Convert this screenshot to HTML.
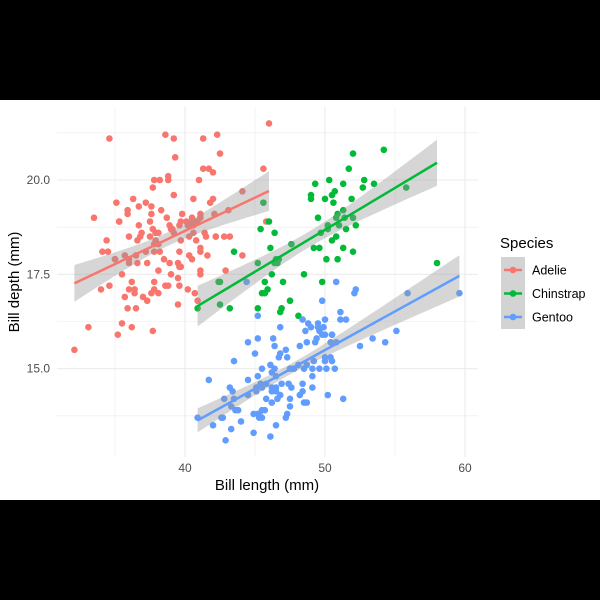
<!DOCTYPE html>
<html><head><meta charset="utf-8"><style>
html,body{margin:0;padding:0;background:#000;}
svg{display:block;font-family:"Liberation Sans",sans-serif;}
</style></head><body>
<svg id="chart" width="600" height="600">
<rect x="0" y="0" width="600" height="600" fill="#000"/>
<rect x="0" y="100" width="600" height="400" fill="#fff"/>
<g id="grid"></g>
<g id="pts"></g>
<g id="fits"></g>
<g id="axes"></g>
<text x="267" y="490" text-anchor="middle" font-size="15" fill="#000">Bill length (mm)</text>
<text transform="translate(19,282) rotate(-90)" text-anchor="middle" font-size="15" fill="#000">Bill depth (mm)</text>
<g id="legend">
<text x="500" y="248" font-size="15" fill="#000">Species</text>
<rect x="501" y="257" width="24" height="72" fill="#d3d3d3"/>
</g>
</svg>
<script>
const species = ["Adelie","Chinstrap","Gentoo"];
const colors = ["#F8766D","#00BA38","#619CFF"];
const xTicks = [40,50,60];
const yTicks = [15.0,17.5,20.0];
const adelieLen = [39.1,39.5,40.3,36.7,39.3,38.9,39.2,34.1,42,37.8,37.8,41.1,38.6,34.6,36.6,38.7,42.5,34.4,46,37.8,37.7,35.9,38.2,38.8,35.3,40.6,40.5,37.9,40.5,39.5,37.2,39.5,40.9,36.4,39.2,38.8,42.2,37.6,39.8,36.5,40.8,36,44.1,37,39.6,41.1,37.5,36,42.3,39.6,40.1,35,42,34.5,41.4,39,40.6,36.5,37.6,35.7,41.3,37.6,41.1,36.4,41.6,35.5,41.1,35.9,41.8,33.5,39.7,39.6,45.8,35.5,42.8,40.9,37.2,36.2,42.1,34.6,42.9,36.7,35.1,37.3,41.3,36.3,36.9,38.3,38.9,35.7,41.1,34,39.6,36.2,40.8,38.1,40.3,33.1,43.2,35,41,37.7,37.8,37.9,39.7,38.6,38.2,38.1,41.7,32.1,40.7,37.3,39,39.2,36.6,36,37.8,36,41.5,40.2,35.2,37.7,39.7,44.1,38.5,43.1,36.8,37.5,38.1,41.1,35.9,40.6,45.6,42.2,39.7,38.1,40.2,38.8,35.3,40.6,37.9,40.5,34.4];
const adelieDep = [18.7,17.4,18,19.3,20.6,17.8,19.6,18.1,20.2,17.1,17.3,17.6,21.2,21.1,17.8,19,20.7,18.4,21.5,18.3,18.7,19.2,18.1,17.2,18.9,18.6,17.9,18.6,18.9,16.7,18.1,17.8,18.9,17,21.1,20,18.5,19.3,19.1,18,18.4,18.5,19.7,16.9,18.8,19,18.9,17.9,21.2,17.7,18.9,17.9,19.5,18.1,18.6,17.5,18.8,16.6,19.1,16.9,21.1,17,18.2,17.1,18,16.2,19.1,16.6,19.4,19,18.4,17.2,18.9,17.5,18.5,16.8,19.4,16.1,19.1,17.2,17.6,18.8,19.4,17.8,20.3,19.5,18.6,19.2,18.8,18,18.1,17.1,18.1,17.3,18.9,18.6,18.5,16.1,18.5,17.9,20,16,20,18.6,18.9,17.2,20,17,20.3,15.5,17,16.8,18.7,18.6,18.4,17.8,18.1,17.1,18.5,17.1,15.9,19.8,17.7,18,17.9,19.2,18.5,18.5,17.6,17.5,19.1,19.5,20.3,18.5,17.7,18.3,18.8,20.1,18.9,18.9,18.4,19];
const chinLen = [46.5,50,51.3,45.4,52.7,45.2,46.1,51.3,46,51.3,46.6,51.7,47,52,45.9,50.5,50.3,58,46.4,49.2,42.4,48.5,43.2,50.6,46.7,52,50.5,49.5,46.4,52.8,40.9,54.2,42.5,51,49.7,47.5,47.6,52,46.9,53.5,49,46.2,50.9,45.5,50.9,50.8,50.1,49,51.5,49.8,48.1,51.4,45.7,50.7,42.5,52.2,45.2,49.3,50.2,45.6,51.9,46.8,45.7,55.8,43.5,49.6,50.8,50.2];
const chinDep = [17.9,19.5,19.2,18.7,19.8,17.8,18.2,18.2,18.9,19.9,17.8,20.3,17.3,18.1,17.1,19.6,20,17.8,18.6,18.2,17.3,17.5,16.6,19.4,17.9,19,18.4,19,17.8,20,16.6,20.8,16.7,18.8,18.6,16.8,18.3,20.7,16.6,19.9,19.5,17.5,19.1,17,17.9,18.5,17.9,19.6,18.7,17.3,16.4,19,17.3,19.7,17.3,18.8,16.6,19.9,18.8,19.4,19.5,16.5,17,19.8,18.1,18.2,19,18.7];
const gentLen = [46.1,50,48.7,50,47.6,46.5,45.4,46.7,43.3,46.8,40.9,49,45.5,48.4,45.8,49.3,42,49.2,46.2,48.7,50.2,45.1,46.5,46.3,42.9,46.1,44.5,47.8,48.2,50,47.3,42.8,45.1,59.6,49.1,48.4,42.6,44.4,44,48.7,42.7,49.6,45.3,49.6,50.5,43.6,45.5,50.5,44.9,45.2,46.6,48.5,45.1,50.1,46.5,45,43.8,45.5,43.2,50.4,45.3,46.2,45.7,54.3,45.8,49.8,46.2,49.5,43.5,50.7,47.7,46.4,48.2,46.5,46.4,48.6,47.5,51.1,45.2,45.2,49.1,52.5,47.4,50,44.9,50.8,43.4,51.3,47.5,52.1,47.5,52.2,45.5,49.5,44.5,50.8,49.4,46.9,48.4,51.1,48.5,55.9,47.2,49.1,47.3,46.8,41.7,53.4,43.3,48.1,50.5,49.8,43.5,51.5,46.2,55.1,44.5,48.8,47.2,46.8,50.4,45.2,49.9];
const gentDep = [13.2,16.3,14.1,15.2,14.5,13.5,14.6,15.3,13.4,15.4,13.7,16.1,13.7,14.6,14.6,15.7,13.5,15.2,14.5,15.1,14.3,14.5,14.5,15.8,13.1,15.1,14.3,15,14.3,15.3,15.3,14.2,14.5,17,14.8,16.3,13.7,17.3,13.6,15.7,13.7,16,13.7,15,15.9,13.9,13.9,15.9,13.3,15.8,14.2,14.1,14.4,15,14.4,15.4,13.9,15,14.5,15.3,13.8,14.9,13.9,15.7,14.2,16.8,14.4,16.2,14.2,15,15,15.6,15.6,14.8,15,16,14.2,16.3,13.8,16.4,14.5,15.6,14.6,15.9,13.8,17.3,14.4,14.2,14,17,15,17.1,14.5,16.1,14.7,15.7,15.8,14.6,14.4,16.5,15,17,15.5,15,13.8,16.1,14.7,15.8,14,15.1,15.2,15.9,15.2,16.3,14.1,16,15.7,16.2,13.7,14.3,15.7,14.8,16.1];

const NS="http://www.w3.org/2000/svg";
const X0=57,X1=478,Y0=107,Y1=457;
const sx=v=>185+(v-40)*14;
const sy=v=>180+(20-v)*37.73;
function mk(tag,attrs,parent){const e=document.createElementNS(NS,tag);for(const k in attrs)e.setAttribute(k,attrs[k]);parent.appendChild(e);return e;}
const grid=document.getElementById('grid');
[35,40,45,50,55,60].forEach(v=>{
  const l=mk('line',{x1:sx(v),x2:sx(v),y1:Y0,y2:Y1,stroke:'#ebebeb','stroke-width':v%10===0?1.1:0.6},grid);
  
  
});
[13.75,15,16.25,17.5,18.75,20,21.25].forEach(v=>{
  const l=mk('line',{x1:X0,x2:X1,y1:sy(v),y2:sy(v),stroke:'#ebebeb','stroke-width':(v*4)%10===0?1.1:0.6},grid);
  
  
});
const axes=document.getElementById('axes');
xTicks.forEach(v=>{
  const t=mk('text',{x:sx(v),y:472,'text-anchor':'middle','font-size':12,fill:'#4d4d4d'},axes);
  t.textContent=v;
  
  
});
yTicks.forEach(v=>{
  const t=mk('text',{x:50,y:sy(v)+4,'text-anchor':'end','font-size':12,fill:'#4d4d4d'},axes);
  t.textContent=v.toFixed(1);
  
  
});
const groups=[[adelieLen,adelieDep],[chinLen,chinDep],[gentLen,gentDep]];
const pts=document.getElementById('pts'),fits=document.getElementById('fits');
groups.forEach((g,i)=>{
  const [xs,ys]=g;const n=Math.min(xs.length,ys.length);
  for(let k=0;k<n;k++){
    const c=mk('circle',{cx:sx(xs[k]),cy:sy(ys[k]),r:3.3,fill:colors[i]},pts);
    
    
  }
  let mx=0,my=0;for(let k=0;k<n;k++){mx+=xs[k];my+=ys[k];}mx/=n;my/=n;
  let sxx=0,sxy=0;for(let k=0;k<n;k++){sxx+=(xs[k]-mx)**2;sxy+=(xs[k]-mx)*(ys[k]-my);}
  const b=sxy/sxx,a=my-b*mx;
  let sse=0;for(let k=0;k<n;k++)sse+=(ys[k]-a-b*xs[k])**2;
  const s=Math.sqrt(sse/(n-2)),t=1.98;
  const lo=Math.min(...xs.slice(0,n)),hi=Math.max(...xs.slice(0,n));
  const up=[],dn=[];
  for(let j=0;j<=40;j++){const x=lo+(hi-lo)*j/40;const f=a+b*x;const se=s*Math.sqrt(1/n+(x-mx)**2/sxx);up.push(sx(x)+','+sy(f+t*se));dn.unshift(sx(x)+','+sy(f-t*se));}
  const rb=mk('polygon',{points:up.concat(dn).join(' '),fill:'#999','fill-opacity':0.4},fits);
  
  
  const ln=mk('line',{x1:sx(lo),y1:sy(a+b*lo),x2:sx(hi),y2:sy(a+b*hi),stroke:colors[i],'stroke-width':2.5},fits);
  
  
});
const leg=document.getElementById('legend');
species.forEach((sp,i)=>{
  const y=270+i*23.5;
  const l=mk('line',{x1:504,x2:522,y1:y,y2:y,stroke:colors[i],'stroke-width':2.5},leg);
  
  
  const c=mk('circle',{cx:513,cy:y,r:3.3,fill:colors[i]},leg);
  
  
  const t=mk('text',{x:532,y:y+4.5,'font-size':12.5,fill:'#000'},leg);
  t.textContent=sp;
  
  
});
</script>
</body></html>
